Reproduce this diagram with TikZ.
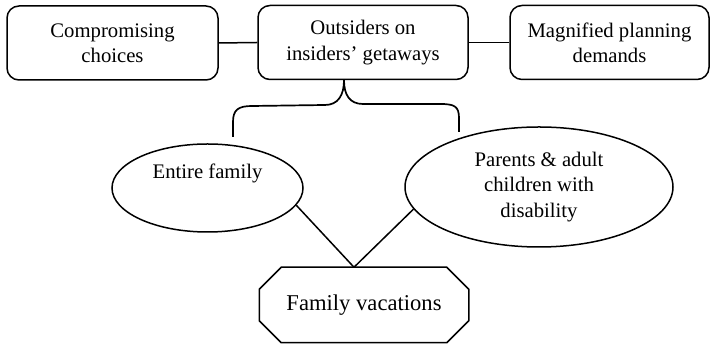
\documentclass[tikz,border=0pt]{standalone}
\usepackage{fontspec}
\setmainfont{Liberation Serif}
\usetikzlibrary{calc,shapes.geometric}

\begin{document}
\begin{tikzpicture}[
  x=0.5pt,y=-0.5pt,
  font=\fontsize{10.35}{12.6}\selectfont,
  line width=.75pt,
  theme/.style={draw, rounded corners=6pt, align=center, inner sep=0pt,
                minimum height=37pt},
  group/.style={draw, ellipse, align=center, inner sep=0pt},
  core/.style={inner sep=0pt, minimum width=104pt, minimum height=37pt,
               font=\fontsize{11.3}{13.5}\selectfont},
  link/.style={draw, line width=.75pt},
]
  \path[use as bounding box] (0,0) rectangle (713,346);

  % top row: the three themes
  \node[theme, minimum width=105.5pt] (comp) at (112.5,43) {Compromising\\choices};
  \node[theme, minimum width=105pt] (outs) at (363,42.5) {Outsiders on\\insiders' getaways};
  \node[theme, minimum width=99.5pt] (plan) at (609.5,42.5) {Magnified planning\\demands};
  \draw[link] (comp.east) -- (outs.west);
  \draw[link] (outs.east) -- (plan.west);

  % the two groups
  \node[group, minimum width=95.5pt, minimum height=44pt] (fam) at (207.5,188)
    {Entire family\\\strut};
  \node[group, minimum width=134pt, minimum height=60pt] (par) at (539,187)
    {Parents \& adult\\children with\\disability};

  % brace under the middle theme
  \coordinate (tip) at ($(outs.south)+(-19,0)$);
  \coordinate (bl) at (233,137);
  \coordinate (br) at (459,132);
  \draw[link, line width=.85pt] (tip) .. controls +(0,15) and +(13,0) .. (325,105)
    -- (252,106) .. controls +(-14,0) and +(0,-12) .. (233,122) -- (bl);
  \draw[link, line width=.85pt] (tip) .. controls +(0,15) and +(-13,0) .. (363,104)
    -- (440,104) .. controls +(14,0) and +(0,-12) .. (459,118) -- (br);

  % the core category, an octagon round its node
  \node[core] (vac) at (364,305) {Family vacations};
  \draw[link] ($(vac.north west)+(22,0)$) -- ($(vac.north east)+(-22,0)$)
    -- ($(vac.north east)+(0,22)$) -- ($(vac.south east)+(0,-22)$)
    -- ($(vac.south east)+(-22,0)$) -- ($(vac.south west)+(22,0)$)
    -- ($(vac.south west)+(0,-22)$) -- ($(vac.north west)+(0,22)$) -- cycle;
  \coordinate (meet) at ($(vac.north)+(-10,0)$);
  \draw[link] (fam.-11) -- (meet);
  \draw[link] (par.190) -- (meet);
\end{tikzpicture}
\end{document}
